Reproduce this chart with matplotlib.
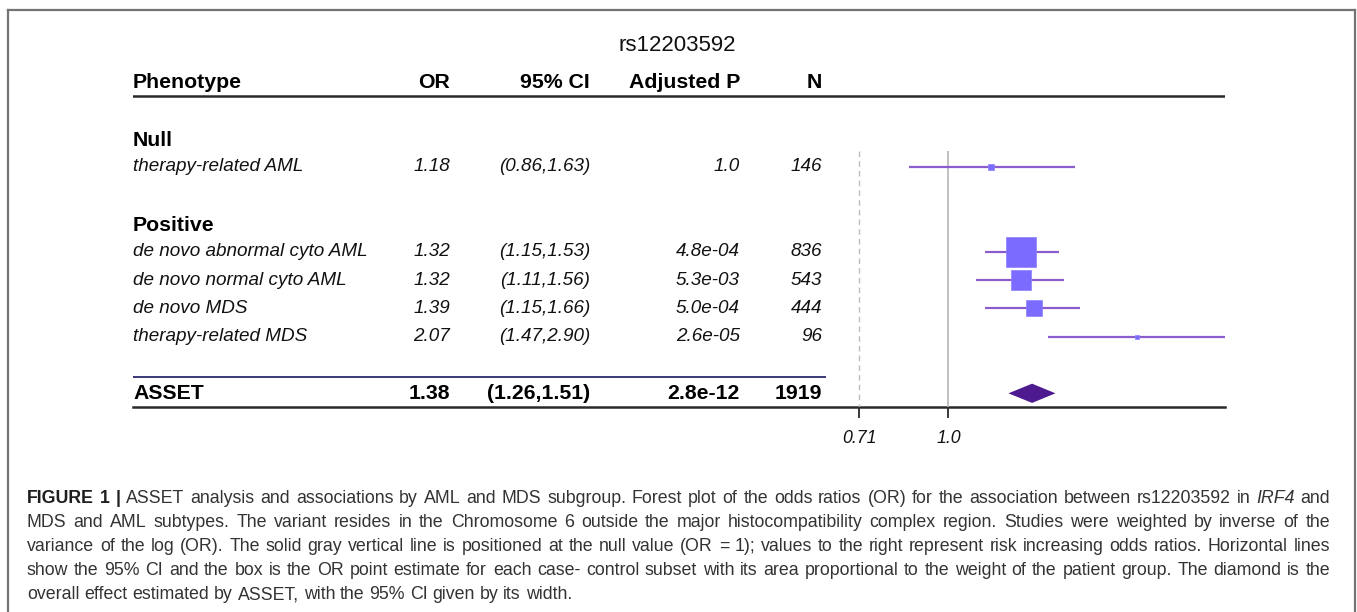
import matplotlib.pyplot as plt
import numpy as np
from matplotlib import font_manager
from matplotlib.lines import Line2D
from matplotlib.patches import Polygon

plt.rcParams['font.family'] = ['Liberation Sans', 'DejaVu Sans']

# data
snp = 'rs12203592'
groups = ['Null', 'Positive']
phenotypes = ['therapy-related AML', 'de novo abnormal cyto AML', 'de novo normal cyto AML',
              'de novo MDS', 'therapy-related MDS']
group_of = ['Null', 'Positive', 'Positive', 'Positive', 'Positive']
odds = [1.18, 1.32, 1.32, 1.39, 2.07]
ci_lo = [0.86, 1.15, 1.11, 1.15, 1.47]
ci_hi = [1.63, 1.53, 1.56, 1.66, 2.90]
p_adj = ['1.0', '4.8e-04', '5.3e-03', '5.0e-04', '2.6e-05']
n_cases = [146, 836, 543, 444, 96]
asset_or, asset_lo, asset_hi = 1.38, 1.26, 1.51
asset_p, asset_n = '2.8e-12', 1919
xticks = [0.71, 1.0]
xtick_labels = ['0.71', '1.0']

# box size in px (area ~ weight)
box_px = [6, 30, 20, 16, 3.5]

W, H = 1357, 612
fig = plt.figure(figsize=(W / 100, H / 100), dpi=100)

def px_axes(x0, x1, y0, y1):
    return fig.add_axes([x0 / W, 1 - y1 / H, (x1 - x0) / W, (y1 - y0) / H])

row_h = 28.3
y_top_row = -2.0
y_bot_row = 11.5
top_px = 82 + y_top_row * row_h
bot_px = 82 + y_bot_row * row_h

ax = px_axes(133, 1225, top_px, bot_px)
ax.set_xlim(133, 1225)
ax.set_ylim(y_bot_row, y_top_row)
for s in ['top', 'left', 'right']:
    ax.spines[s].set_visible(False)
ax.spines['bottom'].set_linewidth(1.8)
ax.spines['bottom'].set_color('#2a2a2a')
ax.set_xticks([])
ax.set_yticks([])

# row layout
rows = []
r = 2
for g in groups:
    rows.append(('group', g, r))
    r += 1
    for i, ph in enumerate(phenotypes):
        if group_of[i] == g:
            rows.append(('item', i, r))
            r += 1
    r += 1
asset_row = 11

bold = dict(fontsize=15.3, fontweight='bold', color='black', va='center')
ital = dict(fontsize=13.6, fontstyle='italic', color='#111111', va='center')
col_x = {'or': 450, 'ci': 590, 'p': 740, 'n': 822}

ax.text(677, -1.3, snp, fontsize=16, ha='center', va='center', color='#111111')
ax.text(133, 0, 'Phenotype', ha='left', **bold)
ax.text(col_x['or'], 0, 'OR', ha='right', **bold)
ax.text(col_x['ci'], 0, '95% CI', ha='right', **bold)
ax.text(col_x['p'], 0, 'Adjusted P', ha='right', **bold)
ax.text(col_x['n'], 0, 'N', ha='right', **bold)
ax.axhline(0.5, color='#2a2a2a', lw=1.8)

item_rows = {}
for kind, v, yr in rows:
    if kind == 'group':
        ax.text(133, yr + 0.08, v, ha='left', **bold)
    else:
        i = v
        item_rows[i] = yr
        ax.text(133, yr, phenotypes[i], ha='left', **ital)
        ax.text(col_x['or'], yr, f'{odds[i]:.2f}', ha='right', **ital)
        ax.text(col_x['ci'], yr, f'({ci_lo[i]:.2f},{ci_hi[i]:.2f})', ha='right', **ital)
        ax.text(col_x['p'], yr, p_adj[i], ha='right', **ital)
        ax.text(col_x['n'], yr, str(n_cases[i]), ha='right', **ital)

ax.hlines(10.43, 133, 826, color='#2b2a70', lw=1.3)
ax.text(133, asset_row, 'ASSET', ha='left', **bold)
ax.text(col_x['or'], asset_row, f'{asset_or:.2f}', ha='right', **bold)
ax.text(col_x['ci'], asset_row, f'({asset_lo:.2f},{asset_hi:.2f})', ha='right', **bold)
ax.text(col_x['p'], asset_row, asset_p, ha='right', **bold)
ax.text(col_x['n'], asset_row, str(asset_n), ha='right', **bold)

# forest panel
fx = px_axes(820, 1225, top_px, bot_px)
fx.patch.set_alpha(0)
fx.set_xscale('log')
fx.set_xlim(0.61, 2.90)
fx.set_ylim(y_bot_row, y_top_row)
for s in fx.spines.values():
    s.set_visible(False)
fx.set_yticks([])
fx.set_xticks(xticks)
fx.set_xticklabels(xtick_labels, fontsize=12.8, fontstyle='italic', color='#111111')
fx.minorticks_off()
fx.tick_params(axis='x', length=8, width=1.3, color='#2a2a2a', pad=8)

fx.vlines(1.0, 2.45, y_bot_row, color='#b5b5b5', lw=1.2)
fx.vlines(0.71, 2.45, y_bot_row, color='#bdbdbd', lw=1.0, linestyles=(0, (4, 3)))

for i in range(len(phenotypes)):
    yr = item_rows[i]
    fx.hlines(yr, ci_lo[i], ci_hi[i], color='#8a5ccc', lw=1.6, zorder=2)
    fx.plot([odds[i]], [yr], marker='s', ms=box_px[i] * 0.72, color='#7b6bff',
            mec='#8c80ff', mew=0.5, zorder=3, clip_on=False)

dh = 0.34
fx.add_patch(Polygon([(asset_lo, asset_row), (asset_or, asset_row - dh),
                      (asset_hi, asset_row), (asset_or, asset_row + dh)],
                     closed=True, facecolor='#4e1a90', edgecolor='none', zorder=3))

# frame
fc = '#747474'
for xs, ys in [([8, 1355], [10, 10]), ([8, 8], [10, H]), ([1355, 1355], [10, H])]:
    fig.add_artist(Line2D([x / W for x in xs], [1 - y / H for y in ys], color=fc, lw=1.6))

# caption
cap_lines = [
    [('FIGURE 1 | ', 'bold'), ('ASSET analysis and associations by AML and MDS subgroup. Forest plot of the odds ratios (OR) for the association between rs12203592 in ', 'normal'),
     ('IRF4', 'italic'), (' and', 'normal')],
    [('MDS and AML subtypes. The variant resides in the Chromosome 6 outside the major histocompatibility complex region. Studies were weighted by inverse of the', 'normal')],
    [('variance of the log (OR). The solid gray vertical line is positioned at the null value (OR = 1); values to the right represent risk increasing odds ratios. Horizontal lines', 'normal')],
    [('show the 95% CI and the box is the OR point estimate for each case- control subset with its area proportional to the weight of the patient group. The diamond is the', 'normal')],
    [('overall effect estimated by ASSET, with the 95% CI given by its width.', 'normal')],
]
cap_y = [503, 527, 551, 575, 599]
cap_x0, cap_x1 = 27, 1330
cap_col = '#333333'

installed = {f.name for f in font_manager.fontManager.ttflist}
cap_family = ['Liberation Sans Narrow', 'Liberation Sans'] if 'Liberation Sans Narrow' in installed \
    else ['Liberation Sans']

renderer = fig.canvas.get_renderer()

def style_kw(style, fs):
    kw = dict(fontsize=fs, family=cap_family)
    if style == 'bold':
        kw['fontweight'] = 'bold'
    elif style == 'italic':
        kw['fontstyle'] = 'italic'
    return kw

def word_w(s, style, fs):
    t = fig.text(0, 0, s, **style_kw(style, fs))
    w = t.get_window_extent(renderer).width
    t.remove()
    return w

def split_words(parts):
    words = []
    prev_space = True
    for txt, st in parts:
        toks = txt.split(' ')
        for k, tk in enumerate(toks):
            if tk == '':
                continue
            attach = (k == 0 and not prev_space and len(words) > 0)
            words.append([tk, st, attach])
        prev_space = txt.endswith(' ')
    return words

def natural(words, fs):
    ws = [word_w(w[0], w[1], fs) for w in words]
    space = word_w('a a', 'normal', fs) - 2 * word_w('a', 'normal', fs)
    gaps = sum(1 for w in words[1:] if not w[2])
    return ws, space, gaps, sum(ws) + gaps * space

all_words = [split_words(p) for p in cap_lines]
widest = max(natural(w, 10)[3] for w in all_words[:-1])
fs_cap = 10 * (cap_x1 - cap_x0) * 0.985 / widest

for li, words in enumerate(all_words):
    widths, space, n_gaps, total = natural(words, fs_cap)
    if li < len(all_words) - 1 and n_gaps > 0:
        gap = space + (cap_x1 - cap_x0 - total) / n_gaps
    else:
        gap = space
    x = cap_x0
    for k, ((tk, st, attach), w) in enumerate(zip(words, widths)):
        if k > 0 and not attach:
            x += gap
        kw = style_kw(st, fs_cap)
        kw.update(color='#1e1e1e' if st == 'bold' else cap_col, va='baseline', ha='left')
        fig.text(x / W, 1 - cap_y[li] / H, tk, **kw)
        x += w

fig.savefig('out.png', dpi=100)
